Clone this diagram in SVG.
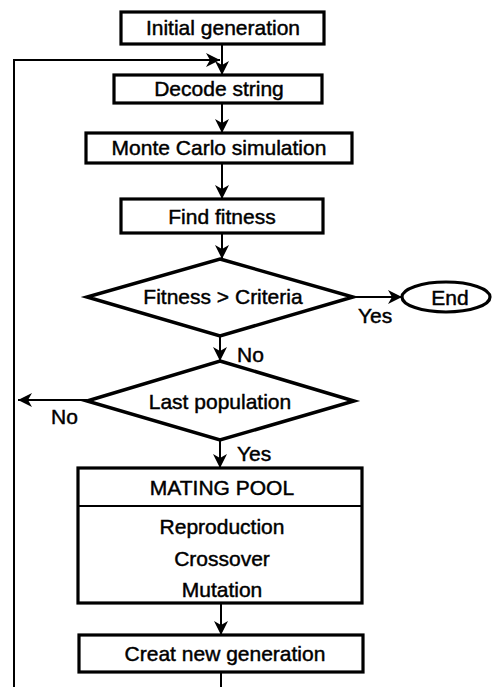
<svg xmlns="http://www.w3.org/2000/svg" width="492" height="687" viewBox="0 0 492 687">
  <style>
    .box { fill: #fff; stroke: #000; stroke-width: 3.2; }
    .dia { fill: #fff; stroke: #000; stroke-width: 3.5; stroke-linejoin: miter; }
    .t { font-family: "Liberation Sans", Arial, sans-serif; font-size: 21px; fill: #000; stroke: #000; stroke-width: 0.45; text-anchor: middle; }
    .lbl { font-family: "Liberation Sans", Arial, sans-serif; font-size: 21px; fill: #000; stroke: #000; stroke-width: 0.45; }
    .c { fill: none; stroke: #000; stroke-width: 2; }
  </style>
  <defs>
    <marker id="ah" markerUnits="userSpaceOnUse" markerWidth="16" markerHeight="14" refX="14" refY="7" orient="auto">
      <path d="M0,0 L14,7 L0,14 L4,7 Z" fill="#000"/>
    </marker>
  </defs>
  <rect width="492" height="687" fill="#fff"/>

  <g id="connectors">
    <line class="c" x1="222" y1="44" x2="222" y2="75" marker-end="url(#ah)"/>
    <polyline class="c" points="14,687 14,60 220,60" marker-end="url(#ah)"/>
    <line class="c" x1="222" y1="103" x2="222" y2="133" marker-end="url(#ah)"/>
    <line class="c" x1="222" y1="163" x2="222" y2="199" marker-end="url(#ah)"/>
    <line class="c" x1="222" y1="233" x2="222" y2="259" marker-end="url(#ah)"/>
    <line class="c" x1="353" y1="297" x2="402" y2="297" marker-end="url(#ah)"/>
    <line class="c" x1="220" y1="336" x2="220" y2="361" marker-end="url(#ah)"/>
    <line class="c" x1="87" y1="400" x2="18" y2="400" marker-end="url(#ah)"/>
    <line class="c" x1="220" y1="440" x2="220" y2="468" marker-end="url(#ah)"/>
    <line class="c" x1="221" y1="603" x2="221" y2="635" marker-end="url(#ah)"/>
    <line class="c" x1="221" y1="672" x2="221" y2="687"/>
    <text class="lbl" x="358" y="323">Yes</text>
    <text class="lbl" x="237" y="362">No</text>
    <text class="lbl" x="51" y="424">No</text>
    <text class="lbl" x="237" y="461">Yes</text>
  </g>

  <g id="initial">
    <rect class="box" x="121" y="12" width="203" height="32"/>
    <text class="t" x="223" y="35">Initial generation</text>
  </g>
  <g id="decode">
    <rect class="box" x="114" y="75" width="208" height="28"/>
    <text class="t" x="219" y="96">Decode string</text>
  </g>
  <g id="montecarlo">
    <rect class="box" x="86" y="133" width="266" height="30"/>
    <text class="t" x="219" y="155">Monte Carlo simulation</text>
  </g>
  <g id="fitness">
    <rect class="box" x="121" y="199" width="202" height="34"/>
    <text class="t" x="222" y="224">Find fitness</text>
  </g>
  <g id="criteria">
    <polygon class="dia" points="220,259 353,297 220,336 87,297"/>
    <text class="t" x="223" y="304">Fitness &gt; Criteria</text>
  </g>
  <g id="end">
    <ellipse class="box" cx="446" cy="297" rx="44" ry="15"/>
    <text class="t" x="450" y="305">End</text>
  </g>
  <g id="lastpop">
    <polygon class="dia" points="220,361 354,401 220,440 87,401"/>
    <text class="t" x="220" y="409">Last population</text>
  </g>
  <g id="matingpool">
    <rect class="box" x="78" y="468" width="284" height="135"/>
    <line class="c" x1="78" y1="506" x2="362" y2="506" stroke-width="3"/>
    <text class="t" x="222" y="495">MATING POOL</text>
    <text class="t" x="222" y="534">Reproduction</text>
    <text class="t" x="222" y="566">Crossover</text>
    <text class="t" x="222" y="597">Mutation</text>
  </g>
  <g id="newgen">
    <rect class="box" x="79" y="635" width="284" height="37"/>
    <text class="t" x="225" y="661">Creat new generation</text>
  </g>
</svg>
